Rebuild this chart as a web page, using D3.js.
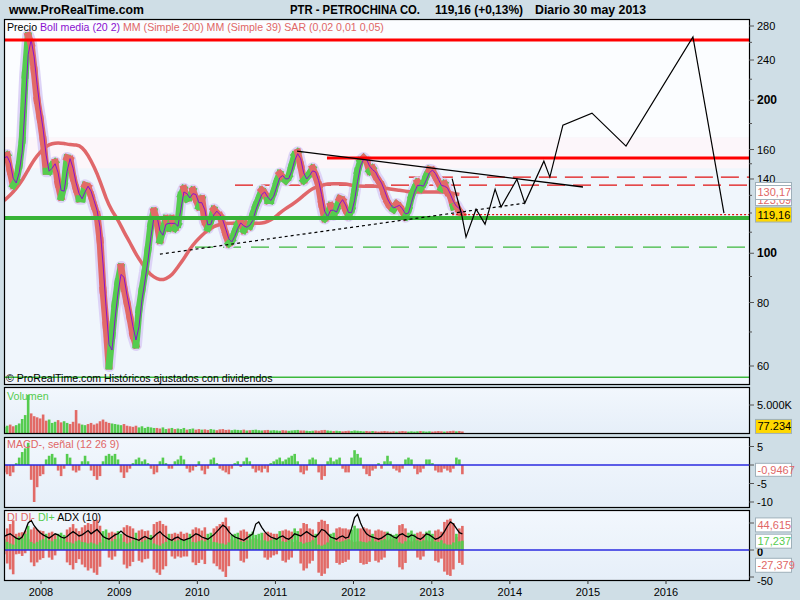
<!DOCTYPE html>
<html><head><meta charset="utf-8">
<script src="https://cdn.jsdelivr.net/npm/d3@7"></script>
<style>
body{margin:0;background:#cfdee6;}
svg{display:block;font-family:"Liberation Sans",Arial,sans-serif;}
</style></head><body>
<svg id="c" width="800" height="600"></svg>
<script>
// ---------------- DATA ----------------
const startDate = "2007-07-13";   // first bi-weekly sample
const stepDays = 14;
const price = [
154,156,145,136,139,149,167,224,268,258,
229,200,184,167,145,145,149,151,137,129,
136,154,153,141,134,128,128,136,135,130,
124,119,106,84.6,72.3,60,69,79.3,87.7,94,
85.4,80,74.6,69,66,77.3,84.6,91.8,101.5,114,
121,115.5,106,111,117,112,117,112,114,130,
134,128,129,133,128,123.5,128,115.5,112,116,
122,120,118.5,114,109,104.5,106,110,114,115.5,
111,114,113,119,124,128,133,131,127,127,
132,138,143.5,141,139,141.5,148.5,156,158,149,
139,141,143.5,147,142,136,125,117,119,124,
119,122,128,127,122,118.5,122,132,145,152,
154,152,145,147,142,139,136,130,126,123.5,
122,125,123.5,121,118,122,129.5,134,138,134,
137,142,146,145.5,141.5,138,134,137,132,129.5,
123.5,124,121,119.16];
const ma200Step = 28;
const ma200 = [
127,130,134,139,146,153,158,162.5,164.5,165,
164.5,163.5,163.5,162,156,148,139,128,121,116.5,
110,105,99.5,95.5,91.8,89.7,88.5,89,90.5,94,
97.5,102,105.5,108.5,111,113,114,114.5,114.5,114.5,
114.5,114.5,114.5,114.5,115.5,117,120,122.5,124.5,127,
130,133,135,136,137,137,137,137,136,135.5,
135.5,135.5,135.5,135,134,133.5,133,132.5,132,132,
132,132,132,132,132,131,130.5];
const volume = [ // thousands
1100,1300,1500,1200,1400,1700,2500,3200,6800,3500,
3000,2800,2600,3300,2200,2400,1800,2000,2300,1900,
2100,1800,1600,2000,4100,1700,1500,1400,1600,1800,
1500,1700,2100,2400,2000,1800,1700,1600,1500,1400,
1600,1300,1200,1100,1300,1000,1200,900,1100,1000,
900,900,800,1000,700,800,900,700,800,700,
900,600,700,800,600,700,600,650,550,700,
600,500,650,700,550,600,500,600,550,500,
600,450,500,550,600,500,450,500,550,450,
500,450,400,500,450,400,450,500,550,450,
450,400,350,400,450,400,500,550,450,400,
350,400,350,300,350,400,350,450,400,350,
300,350,300,350,300,250,300,350,300,250,
300,250,300,350,300,250,300,250,300,350,
300,250,300,250,300,350,300,250,300,350,
400,300,350,280];
const macdHist = [
-2,-2.5,-3,-2,0.5,2,3.5,4.5,6,-4,
-10,-6,-3,-2.5,1.5,2.5,3,2,-1.5,-3,
-1,3,2,-1.5,-2,-1.5,1,2.5,1,-1.5,
-3,-4,-3,1,2.5,3,2.5,3,1.5,-2,
-3.5,-2,-1,0.5,1.5,2,1,1.5,0.5,-1,
-2.5,-2,1,2,0.5,-1,-1,1,1.5,2.5,
1.5,-1,-2,-1.5,-0.5,1,-1.5,-2.5,-1,1.5,
2,0.5,-1,-1.5,-2,-2.5,-1,0.5,1,-0.5,
1,2,1,-1,-2,-1.5,-2,-1,-2,0.5,
1,1.5,2,1,1.5,2,2.5,3,1,-2,
-2.5,-1.5,1.5,2,1.5,-2,-4,-3,1,2,
1,1.5,2,-1,-2,-2,2,4,3,2,
-1,-2.5,-3,-1.5,-1,0.5,-1,1,2.5,1,
-1,-1.5,-2,-1,1.5,2,1.5,-1,-2.5,-2,
-1,1.5,1.5,0.5,-1.5,-2,-2,-1,-1.5,-2,
-1,2,1.5,-2.5];
const diPlus = [
20,15,12,10,22,25,22,30,45,15,
12,15,18,20,30,18,16,20,30,32,
28,15,14,12,16,18,15,14,12,14,
12,10,14,35,38,18,16,20,35,30,
15,12,14,18,32,16,15,18,20,28,
12,10,8,12,15,30,18,16,18,20,
18,20,30,15,14,16,18,16,30,32,
15,14,12,12,10,14,28,30,32,16,
15,18,30,34,28,30,32,18,16,18,
20,22,35,16,15,18,20,40,35,15,
12,14,15,18,30,10,8,10,14,30,
32,16,15,16,18,20,38,45,40,16,
15,14,16,30,16,15,18,20,34,30,
28,30,14,12,16,32,36,30,18,16,
18,34,36,30,16,15,18,12,10,10,
14,30,16,17.237];
const diMinus = [
28,40,48,55,30,32,33,36,20,38,
42,38,36,35,18,32,34,30,20,18,
22,38,42,48,40,35,42,46,50,48,
54,56,45,20,18,32,34,32,20,22,
42,46,44,40,18,36,38,35,36,20,
48,52,54,48,45,18,30,32,30,34,
30,32,18,38,42,40,36,42,20,18,
40,44,48,52,60,44,20,18,20,36,
38,34,18,20,22,20,18,32,34,32,
30,30,18,36,38,36,34,15,18,40,
50,48,40,38,20,52,56,54,48,18,
20,40,42,40,40,38,18,15,16,40,
42,40,38,20,36,38,36,34,18,20,
22,20,46,48,40,18,16,20,32,34,
30,18,16,20,36,38,34,52,56,58,
50,24,40,44.615];
const adx = [
25,28,30,26,22,20,24,35,50,55,
45,38,32,28,25,22,26,30,28,24,
22,25,30,34,30,26,28,32,36,30,
34,38,32,25,22,20,24,28,30,35,
30,26,24,22,20,18,22,25,22,20,
25,30,34,28,24,20,18,22,24,20,
18,20,22,26,30,28,24,22,20,24,
28,34,40,46,42,34,28,24,22,20,
18,22,26,30,48,52,42,34,28,24,
22,20,24,26,22,20,24,30,28,26,
30,34,30,26,24,30,38,36,30,24,
22,20,24,26,22,24,40,60,66,50,
38,30,26,24,22,20,22,26,30,28,
24,22,28,30,26,24,28,26,22,20,
24,30,28,24,20,22,26,34,44,52,
48,40,32,30];

const yearTicks = [2008,2009,2010,2011,2012,2013,2014,2015,2016];
const priceTicks = [280,240,200,160,140,100,80,60];
const priceBold = [200,100];
const priceMinor = [260,220,180,150,130,120,110,90,70];
const zoneLevels = [147,169];
const resistLevels = [262.8,153.9];
const resistFrom = ["2007-07-12","2011-08-30"];
const dashLevels = [141.2,136.2];
const dashFrom = ["2012-09-16","2010-06-26"];
const lastLevel = 119.16, lastFrom = "2013-04-06";
const supportLevel = 117.3;
const supportDash = 102.8, supportDashFrom = "2009-12-21";
const floorLevel = 57.0;
const trendDownDates = ["2011-04-12","2014-12-09"], trendDownPrices = [158.9,135.0];
const trendUpDates = ["2009-07-10","2014-03-12"], trendUpPrices = [99.6,125.5];
const projDates = ["2013-04-06","2013-05-22","2013-06-10","2013-07-27","2013-09-07","2013-10-24","2013-11-21",
  "2014-02-03","2014-03-12","2014-06-09","2014-07-07","2014-09-06","2015-01-20","2015-06-28","2016-05-06","2016-09-28"];
const projPrices = [140.2,118.4,107.6,122.1,114.1,133.7,123.3,139.9,125.5,151.8,141.2,178.7,188.7,162.5,266.4,119.9];
const macdTicks = [5,-5,-10];
const diTicks = [0,-50];
const volTicks = [5000];

// ---------------- LAYOUT ----------------
const svg = d3.select("#c");
const parse = d3.timeParse("%Y-%m-%d");
const L = 4, R = 749;
const P = {main:[19,384], vol:[387,433], macd:[437,507], di:[510,580]};
const x = d3.scaleTime().domain([new Date(2008,0,1), new Date(2016,0,1)]).range([41,666]);
const y = d3.scaleLog().domain([60,280]).range([366,26]);
const yV = d3.scaleLinear().domain([0,5000]).range([433,405]);
const yM = d3.scaleLinear().domain([0,5]).range([465,446.5]);
const yD = d3.scaleLinear().domain([0,50]).range([550,523]);
const t0 = parse(startDate);
const dates = price.map((_,i)=>d3.timeDay.offset(t0, i*stepDays));
const maDates = ma200.map((_,i)=>d3.timeDay.offset(t0, i*ma200Step));
const GREEN="#55cc4f", RED="#e26a66", LAV="#ddd3f7", PURP="#8a10d0";

const defs = svg.append("defs");
const grad = defs.append("linearGradient").attr("id","pg").attr("x1",0).attr("y1",0).attr("x2",0).attr("y2",1);
grad.append("stop").attr("offset","0%").attr("stop-color","#f2f7fd");
grad.append("stop").attr("offset","100%").attr("stop-color","#e6eff9");
Object.entries(P).forEach(([k,[t,b]])=>{
  defs.append("clipPath").attr("id","clip-"+k).append("rect").attr("x",L).attr("y",t).attr("width",R-L).attr("height",b-t);
});

// panel backgrounds
svg.append("rect").attr("x",L).attr("y",P.main[0]).attr("width",R-L).attr("height",P.main[1]-P.main[0]).attr("fill","#f0f6fc");
svg.append("rect").attr("x",L).attr("y",P.main[0]).attr("width",R-L).attr("height",y(zoneLevels[1])-P.main[0]).attr("fill","#fbfdff");
svg.append("rect").attr("x",L).attr("y",y(zoneLevels[1])).attr("width",R-L).attr("height",y(zoneLevels[0])-y(zoneLevels[1])).attr("fill","#fcf6fa");
["vol","macd","di"].forEach(k=>{
  svg.append("rect").attr("x",L).attr("y",P[k][0]).attr("width",R-L).attr("height",P[k][1]-P[k][0]).attr("fill","url(#pg)");
});

// ---------------- MAIN PANEL ----------------
const gm = svg.append("g").attr("clip-path","url(#clip-main)");
const hline = (lvl, from, color, w, dash)=>{
  gm.append("line").attr("x1",from?x(parse(from)):L).attr("x2",R)
    .attr("y1",y(lvl)).attr("y2",y(lvl)).attr("stroke",color).attr("stroke-width",w)
    .attr("stroke-dasharray",dash||null);
};
hline(floorLevel,null,"#3cb83c",1.5);
hline(supportDash,supportDashFrom,"#3cb83c",1.3,"18,10");
dashLevels.forEach((l,i)=>hline(l,dashFrom[i],"#e01010",1.3,"18,8"));

const lineGen = d3.line().x(d=>x(d[0])).y(d=>y(d[1]));
// Bollinger halo
gm.append("path").datum(dates.map((d,i)=>[d,price[i]])).attr("d",lineGen)
  .attr("fill","none").attr("stroke",LAV).attr("stroke-width",12).attr("stroke-linejoin","round");
// MA200
gm.append("path").datum(maDates.map((d,i)=>[d,ma200[i]])).attr("d",lineGen.curve(d3.curveBasis))
  .attr("fill","none").attr("stroke","#e0676a").attr("stroke-width",3.5);
lineGen.curve(d3.curveLinear);
// price segments
const segs = d3.range(1,price.length).map(i=>({a:[dates[i-1],price[i-1]],b:[dates[i],price[i]],up:price[i]>=price[i-1]}));
gm.selectAll("line.seg").data(segs).join("line").attr("class","seg")
  .attr("x1",d=>x(d.a[0])).attr("y1",d=>y(d.a[1])).attr("x2",d=>x(d.b[0])).attr("y2",d=>y(d.b[1]))
  .attr("stroke",d=>d.up?GREEN:RED).attr("stroke-width",7).attr("stroke-linecap","square");
// boll media
const mid = price.map((p,i)=> i===0?p:(p+price[i-1])/2);
gm.append("path").datum(dates.map((d,i)=>[d,mid[i]])).attr("d",lineGen)
  .attr("fill","none").attr("stroke",PURP).attr("stroke-width",1);

// horizontal levels
hline(supportLevel,null,"#37b337",4);
resistLevels.forEach((l,i)=>hline(l,resistFrom[i],"#ff0000",3));
hline(lastLevel,lastFrom,"#e01010",1.2,"2,2");
// trendlines
gm.append("line").attr("x1",x(parse(trendDownDates[0]))).attr("y1",y(trendDownPrices[0]))
  .attr("x2",x(parse(trendDownDates[1]))).attr("y2",y(trendDownPrices[1])).attr("stroke","#000").attr("stroke-width",1.3);
gm.append("line").attr("x1",x(parse(trendUpDates[0]))).attr("y1",y(trendUpPrices[0]))
  .attr("x2",x(parse(trendUpDates[1]))).attr("y2",y(trendUpPrices[1])).attr("stroke","#000").attr("stroke-width",1.2).attr("stroke-dasharray","3,3");
// projection
gm.append("path").datum(projDates.map((d,i)=>[parse(d),projPrices[i]])).attr("d",lineGen)
  .attr("fill","none").attr("stroke","#000").attr("stroke-width",1.2);

// legend
const leg = svg.append("text").attr("x",7).attr("y",31).attr("font-size",10.6);
leg.append("tspan").attr("fill","#000").text("Precio ");
leg.append("tspan").attr("fill",PURP).text("Boll media (20 2) ");
leg.append("tspan").attr("fill","#e06666").text("MM (Simple 200) MM (Simple 39) SAR (0,02 0,01 0,05)");
svg.append("text").attr("x",6).attr("y",382).attr("font-size",10.6).attr("fill","#000")
  .text("© ProRealTime.com  Históricos ajustados con dividendos");

// ---------------- VOLUME ----------------
const gv = svg.append("g").attr("clip-path","url(#clip-vol)");
gv.selectAll("rect").data(volume).join("rect")
  .attr("x",(d,i)=>x(dates[i])-1.3).attr("width",2.6)
  .attr("y",d=>yV(d)).attr("height",d=>yV(0)-yV(d))
  .attr("fill",(d,i)=> i===0||price[i]>=price[i-1]?GREEN:RED);
svg.append("text").attr("x",7).attr("y",400).attr("font-size",10.7).attr("fill",GREEN).text("Volumen");

// ---------------- MACD ----------------
const gmc = svg.append("g").attr("clip-path","url(#clip-macd)");
gmc.selectAll("rect").data(macdHist).join("rect")
  .attr("x",(d,i)=>x(dates[i])-1.3).attr("width",2.6)
  .attr("y",d=>Math.min(yM(d),yM(0))).attr("height",d=>Math.abs(yM(d)-yM(0)))
  .attr("fill",d=>d>=0?GREEN:RED);
gmc.append("line").attr("x1",L).attr("x2",R).attr("y1",yM(0)).attr("y2",yM(0)).attr("stroke","#2a2ae0").attr("stroke-width",1.5);
svg.append("text").attr("x",7).attr("y",448).attr("font-size",10.7).attr("fill","#e06666").text("MACD-, señal (12 26 9)");

// ---------------- DI / ADX ----------------
const gd = svg.append("g").attr("clip-path","url(#clip-di)");
gd.selectAll("rect.dm").data(diMinus).join("rect").attr("class","dm")
  .attr("x",(d,i)=>x(dates[i])-1.3).attr("width",2.6)
  .attr("y",d=>yD(d)).attr("height",d=>yD(0)-yD(d)).attr("fill",RED);
gd.selectAll("rect.dp").data(diPlus).join("rect").attr("class","dp")
  .attr("x",(d,i)=>x(dates[i])-1.3).attr("width",2.6)
  .attr("y",d=>yD(d)).attr("height",d=>yD(0)-yD(d)).attr("fill",GREEN);
const diff = diPlus.map((p,i)=>p-diMinus[i]);
gd.selectAll("rect.df").data(diff).join("rect").attr("class","df")
  .attr("x",(d,i)=>x(dates[i])-1.3).attr("width",2.6)
  .attr("y",yD(0)).attr("height",d=>d<0?yD(d)-yD(0):0).attr("fill",RED);
gd.append("path").datum(dates.map((d,i)=>[d,adx[i]]))
  .attr("d",d3.line().x(d=>x(d[0])).y(d=>yD(d[1])))
  .attr("fill","none").attr("stroke","#000").attr("stroke-width",1.3);
gd.append("line").attr("x1",L).attr("x2",R).attr("y1",yD(0)).attr("y2",yD(0)).attr("stroke","#2a2ae0").attr("stroke-width",1.5);
const dl = svg.append("text").attr("x",7).attr("y",521).attr("font-size",10.7);
dl.append("tspan").attr("fill","#e06666").text("DI DI- ");
dl.append("tspan").attr("fill",GREEN).text("DI+ ");
dl.append("tspan").attr("fill","#000").text("ADX (10)");

// panel borders
Object.values(P).forEach(([t,b])=>{
  svg.append("rect").attr("x",L+0.5).attr("y",t+0.5).attr("width",R-L).attr("height",b-t)
    .attr("fill","none").attr("stroke","#000").attr("stroke-width",1.2);
});

// ---------------- AXES ----------------
const ax = svg.append("g").attr("font-size",11).attr("fill","#000");
const tick = (yy,len)=>ax.append("line").attr("x1",R).attr("x2",R+len).attr("y1",yy).attr("y2",yy).attr("stroke","#555");
priceTicks.forEach(v=>{
  tick(y(v),5);
  ax.append("text").attr("x",R+8).attr("y",y(v)+4).attr("font-weight",priceBold.includes(v)?"bold":null)
    .attr("font-size",priceBold.includes(v)?12:11).text(v);
});
priceMinor.forEach(v=>tick(y(v),3));
volTicks.forEach(v=>{
  tick(yV(v),5);
  ax.append("text").attr("x",R+8).attr("y",yV(v)+4).text(d3.format(",")(v).replace(",",".")+"K");
});
tick(yM(0),5);
macdTicks.forEach(v=>{
  tick(yM(v),5);
  ax.append("text").attr("x",R+8).attr("y",yM(v)+4).text(v);
});
tick(yD(50),5);
diTicks.forEach(v=>{
  tick(yD(v),5);
  ax.append("text").attr("x",R+8).attr("y",v===0?yD(v)+6:yD(v)+8).attr("font-weight",v===0?"bold":null).text(v);
});
yearTicks.forEach(yr=>{
  const xx = x(new Date(yr,0,1));
  ax.append("line").attr("x1",xx).attr("x2",xx).attr("y1",P.di[1]).attr("y2",P.di[1]+4).attr("stroke","#333");
  ax.append("text").attr("x",xx).attr("y",596).attr("text-anchor","middle").text(yr);
});

// value boxes
const box = (yc,txt,color,fill,h,clipTop)=>{
  const g = svg.append("g");
  g.append("rect").attr("x",755.5).attr("y",yc-h/2).attr("width",36).attr("height",h)
    .attr("fill",fill).attr("stroke","#9fb0ba");
  if(txt){
    const t = g.append("text").attr("x",757.5).attr("y",yc+4).attr("font-size",11).attr("fill",color).text(txt);
    if(clipTop!=null){
      const id = "bx"+Math.round(yc);
      defs.append("clipPath").attr("id",id).append("rect").attr("x",755).attr("y",clipTop).attr("width",40).attr("height",yc+h/2-clipTop);
      t.attr("clip-path",`url(#${id})`).attr("y",yc+2);
    }
  }
};
const fmt = v=>d3.format(".2f")(v).replace(".",",");
const yMa = y(ma200[ma200.length-1]);
box(yMa+8, "123,09", "#e06666", "#fff", 6, yMa+5);
box(yMa-9.5, null, null, "#fff", 5);
box(yMa-2, "130,17", "#e06666", "#fff", 14);
box(y(price[price.length-1]), fmt(price[price.length-1]), "#000", "#ffd800", 15);
box(yV(volume[volume.length-1])-5, "77.234", "#000", "#ffd800", 14);
box(yM(-1.3), "-0,9467", "#e06666", "#fff", 13);
box(yD(diMinus[diMinus.length-1])-1, "44,615", "#e06666", "#fff", 14);
box(yD(diPlus[diPlus.length-1])+0.5, "17,237", GREEN, "#fff", 14);
box(yD(diff[diff.length-1])+0.5, "-27,379", "#e06666", "#fff", 14);

// ---------------- HEADER ----------------
const head = (xx,w,txt)=>svg.append("text").attr("x",xx).attr("y",14).attr("font-weight","bold").attr("font-size",13)
  .attr("textLength",w).attr("lengthAdjust","spacingAndGlyphs").text(txt);
head(9,135,"www.ProRealTime.com");
head(290,130,"PTR - PETROCHINA CO.");
head(435,88,"119,16 (+0,13%)");
head(535,111,"Diario  30 may 2013");
</script>
</body></html>
